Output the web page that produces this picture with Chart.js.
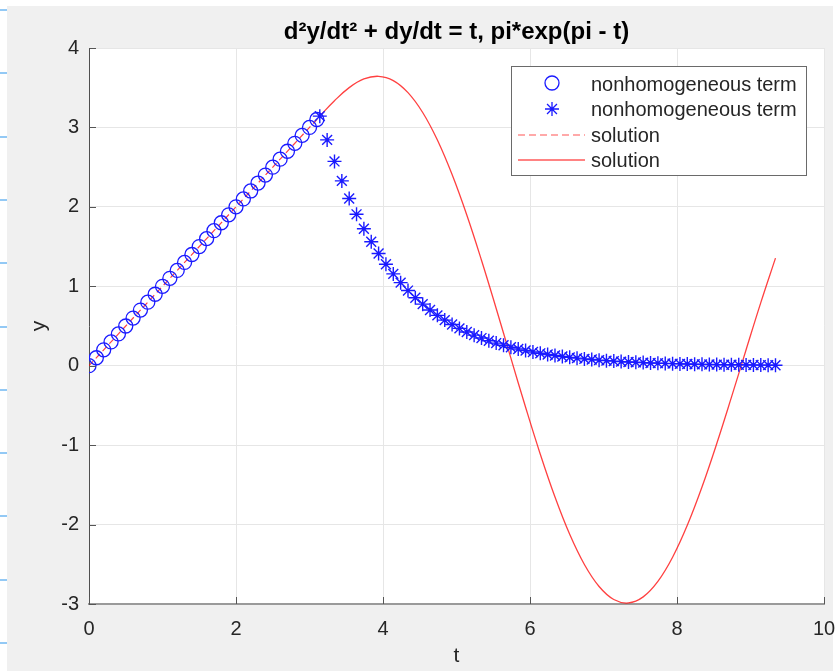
<!DOCTYPE html>
<html>
<head>
<meta charset="utf-8">
<script src="https://cdn.jsdelivr.net/npm/chart.js@4.4.1/dist/chart.umd.min.js"></script>
<style>
  html, body { margin: 0; padding: 0; background: #ffffff; }
  #wrap { position: absolute; left: 0; top: 0; width: 837px; height: 671px; }
</style>
</head>
<body>
<div id="wrap"><canvas id="c" width="837" height="671"></canvas></div>
<script>
// ---- data ----
const circleT = [0,0.1,0.2,0.3,0.4,0.5,0.6,0.7,0.8,0.9,1.0,1.1,1.2,1.3,1.4,1.5,1.6,1.7,1.8,1.9,2.0,2.1,2.2,2.3,2.4,2.5,2.6,2.7,2.8,2.9,3.0,3.1];
const circleY = [0,0.1,0.2,0.3,0.4,0.5,0.6,0.7,0.8,0.9,1.0,1.1,1.2,1.3,1.4,1.5,1.6,1.7,1.8,1.9,2.0,2.1,2.2,2.3,2.4,2.5,2.6,2.7,2.8,2.9,3.0,3.1];

const starT = [3.14,3.24,3.34,3.44,3.54,3.64,3.74,3.84,3.94,4.04,4.14,4.24,4.34,4.44,4.54,4.64,4.74,4.84,4.94,5.04,
               5.14,5.24,5.34,5.44,5.54,5.64,5.74,5.84,5.94,6.04,6.14,6.24,6.34,6.44,6.54,6.64,6.74,6.84,6.94,7.04,
               7.14,7.24,7.34,7.44,7.54,7.64,7.74,7.84,7.94,8.04,8.14,8.24,8.34,8.44,8.54,8.64,8.74,8.84,8.94,9.04,
               9.14,9.24,9.34];
const starY = [3.142,2.843,2.572,2.327,2.106,1.906,1.724,1.560,1.412,1.277,1.156,1.046,0.946,0.856,0.775,0.701,0.634,0.574,0.519,0.470,
               0.425,0.385,0.348,0.315,0.285,0.258,0.233,0.211,0.191,0.173,0.156,0.142,0.128,0.116,0.105,0.095,0.086,0.078,0.070,0.064,
               0.058,0.052,0.047,0.043,0.039,0.035,0.032,0.029,0.026,0.023,0.021,0.019,0.017,0.016,0.014,0.013,0.012,0.011,0.010,0.009,
               0.008,0.007,0.006];

const dashT = [0, 3.14];
const dashY = [0, 3.14];

const solT = [3.14,3.34,3.54,3.74,3.94,4.14,4.34,4.54,4.74,4.94,5.14,5.34,5.54,5.74,5.94,6.14,
              6.34,6.54,6.74,6.94,7.14,7.34,7.54,7.74,7.94,8.14,8.34,8.54,8.74,8.94,9.14,9.34];
const solY = [3.142,3.336,3.501,3.610,3.644,3.590,3.438,3.188,2.841,2.406,1.897,1.328,0.721,0.096,-0.523,-1.114,
              -1.654,-2.123,-2.503,-2.780,-2.944,-2.987,-2.910,-2.715,-2.411,-2.009,-1.527,-0.983,-0.399,0.201,0.794,1.355];

const xTicks = [0,2,4,6,8,10];
const yTicks = [-3,-2,-1,0,1,2,3,4];

const titleText = 'd\u00B2y/dt\u00B2 + dy/dt = t, pi*exp(pi - t)';
const legendLabels = ['nonhomogeneous term','nonhomogeneous term','solution','solution'];

const pts = (xs, ys) => xs.map((x, i) => ({ x: x, y: ys[i] }));

const FONT = '"Liberation Sans", Arial, Helvetica, sans-serif';
const BLUE = '#1a1aff';

const decor = {
  id: 'decor',
  afterLayout(chart) {
    // centre the title over the plot area, as in the reference
    if (chart.titleBlock) {
      chart.titleBlock.left = chart.chartArea.left;
      chart.titleBlock.right = chart.chartArea.right;
    }
  },
  beforeDraw(chart) {
    const ctx = chart.ctx, a = chart.chartArea;
    ctx.save();
    ctx.fillStyle = '#ffffff';
    ctx.fillRect(0, 0, chart.width, chart.height);
    ctx.fillStyle = '#f0f0f0';
    ctx.fillRect(7, 6, 826, 665);
    ctx.strokeStyle = '#93c9f5';
    ctx.lineWidth = 2;
    for (let y = 10; y < 671; y += 63.3) {
      ctx.beginPath(); ctx.moveTo(0, Math.round(y)); ctx.lineTo(7, Math.round(y)); ctx.stroke();
    }
    ctx.fillStyle = '#ffffff';
    ctx.fillRect(a.left, a.top, a.right - a.left, a.bottom - a.top);
    ctx.restore();
  },
  afterDraw(chart) {
    const ctx = chart.ctx, a = chart.chartArea;
    const xs = chart.scales.x, ys = chart.scales.y;
    ctx.save();
    // inward ticks
    ctx.strokeStyle = '#555555';
    ctx.lineWidth = 1;
    xTicks.forEach(v => {
      const px = Math.round(xs.getPixelForValue(v)) + 0.5;
      ctx.beginPath(); ctx.moveTo(px, a.bottom); ctx.lineTo(px, a.bottom - 7); ctx.stroke();
    });
    yTicks.forEach(v => {
      const py = Math.round(ys.getPixelForValue(v)) + 0.5;
      ctx.beginPath(); ctx.moveTo(a.left, py); ctx.lineTo(a.left + 7, py); ctx.stroke();
    });
    // legend
    const L = 511, T = 66, W = 295, H = 109;
    ctx.fillStyle = '#ffffff';
    ctx.fillRect(L, T, W, H);
    ctx.strokeStyle = '#6a6a6a';
    ctx.lineWidth = 1;
    ctx.strokeRect(L + 0.5, T + 0.5, W, H);
    const rows = [84, 109, 135, 160];
    // circle
    ctx.strokeStyle = BLUE; ctx.lineWidth = 1.3;
    ctx.beginPath(); ctx.arc(552, rows[0] - 1, 7, 0, Math.PI * 2); ctx.stroke();
    // star
    ctx.beginPath();
    for (let k = 0; k < 4; k++) {
      const ang = k * Math.PI / 4;
      const dx = Math.cos(ang) * 7, dy = Math.sin(ang) * 7;
      ctx.moveTo(552 - dx, rows[1] - dy); ctx.lineTo(552 + dx, rows[1] + dy);
    }
    ctx.stroke();
    // dashed
    ctx.strokeStyle = 'rgba(255,0,0,0.45)'; ctx.lineWidth = 1.5;
    ctx.setLineDash([7, 4]);
    ctx.beginPath(); ctx.moveTo(518, rows[2]); ctx.lineTo(585, rows[2]); ctx.stroke();
    ctx.setLineDash([]);
    ctx.strokeStyle = 'rgba(255,0,0,0.65)';
    ctx.beginPath(); ctx.moveTo(518, rows[3]); ctx.lineTo(585, rows[3]); ctx.stroke();
    ctx.fillStyle = '#262626';
    ctx.font = '20px ' + FONT;
    ctx.textBaseline = 'middle';
    ctx.textAlign = 'left';
    legendLabels.forEach((t, i) => ctx.fillText(t, 591, rows[i] + 1));
    ctx.restore();
  }
};

new Chart(document.getElementById('c'), {
  type: 'scatter',
  data: {
    datasets: [
      { label: legendLabels[0], data: pts(circleT, circleY), showLine: false,
        pointStyle: 'circle', pointRadius: 7, pointBorderColor: BLUE, pointBackgroundColor: 'rgba(0,0,0,0)',
        pointBorderWidth: 1.3, order: 1 },
      { label: legendLabels[1], data: pts(starT, starY), showLine: false,
        pointStyle: 'star', pointRadius: 7, pointBorderColor: BLUE, pointBackgroundColor: BLUE,
        pointBorderWidth: 1.4, order: 2 },
      { label: legendLabels[2], data: pts(dashT, dashY), showLine: true, pointRadius: 0,
        borderColor: 'rgba(255,0,0,0.75)', borderWidth: 1.2, borderDash: [6, 4], order: 3 },
      { label: legendLabels[3], data: pts(solT, solY), showLine: true, pointRadius: 0,
        borderColor: 'rgba(255,0,0,0.75)', borderWidth: 1.3, tension: 0.4, order: 4 }
    ]
  },
  options: {
    responsive: false,
    animation: false,
    events: [],
    layout: { padding: { left: 0, right: 13, top: 0, bottom: 0 } },
    plugins: {
      legend: { display: false },
      tooltip: { enabled: false },
      title: {
        display: true, text: titleText, color: '#000000',
        font: { family: FONT, size: 24, weight: 'bold', lineHeight: 1.2 },
        padding: { top: 18, bottom: 1.2 }
      }
    },
    scales: {
      x: {
        type: 'linear', min: 0, max: 10,
        afterFit(s) { s.height = 67; s.paddingLeft = 0; s.paddingRight = 0; },
        afterBuildTicks(s) { s.ticks = xTicks.map(v => ({ value: v })); },
        ticks: { color: '#262626', font: { family: FONT, size: 20 }, padding: 13, maxRotation: 0 },
        grid: { color: '#e6e6e6', drawTicks: false, lineWidth: 1 },
        border: { display: true, color: '#9a9a9a', width: 2 },
        title: { display: true, text: 't', color: '#262626', font: { family: FONT, size: 21 }, padding: { top: 0, bottom: 2 } }
      },
      y: {
        type: 'linear', min: -3, max: 4,
        afterFit(s) { s.width = 89; s.paddingTop = 0; s.paddingBottom = 0; },
        afterBuildTicks(s) { s.ticks = yTicks.map(v => ({ value: v })); },
        ticks: { color: '#262626', font: { family: FONT, size: 20 }, padding: 10 },
        grid: { color: '#e6e6e6', drawTicks: false, lineWidth: 1 },
        border: { display: true, color: '#505050', width: 1 },
        title: { display: true, text: 'y', color: '#262626', font: { family: FONT, size: 21 }, padding: { top: 27, bottom: 0 } }
      }
    }
  },
  plugins: [decor]
});
</script>
</body>
</html>
